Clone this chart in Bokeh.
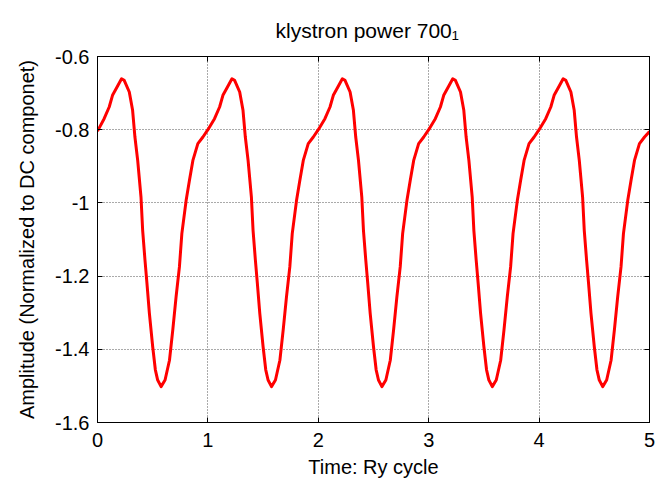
from bokeh.plotting import figure
from bokeh.models import LinearAxis, FixedTicker, Range1d, Title
from bokeh.embed import file_html
from bokeh.resources import INLINE

time_cycle = [
    0.000, 0.060, 0.106, 0.136, 0.176, 0.218, 0.242, 0.288, 0.318, 0.339, 0.364, 0.394, 0.409, 0.430, 0.448, 0.470,
    0.500, 0.524, 0.545, 0.576, 0.612, 0.652, 0.682, 0.712, 0.742, 0.764, 0.803, 0.833, 0.864, 0.909, 0.955,
    1.000, 1.060, 1.106, 1.136, 1.176, 1.218, 1.242, 1.288, 1.318, 1.339, 1.364, 1.394, 1.409, 1.430, 1.448, 1.470,
    1.500, 1.524, 1.545, 1.576, 1.612, 1.652, 1.682, 1.712, 1.742, 1.764, 1.803, 1.833, 1.864, 1.909, 1.955,
    2.000, 2.060, 2.106, 2.136, 2.176, 2.218, 2.242, 2.288, 2.318, 2.339, 2.364, 2.394, 2.409, 2.430, 2.448, 2.470,
    2.500, 2.524, 2.545, 2.576, 2.612, 2.652, 2.682, 2.712, 2.742, 2.764, 2.803, 2.833, 2.864, 2.909, 2.955,
    3.000, 3.060, 3.106, 3.136, 3.176, 3.218, 3.242, 3.288, 3.318, 3.339, 3.364, 3.394, 3.409, 3.430, 3.448, 3.470,
    3.500, 3.524, 3.545, 3.576, 3.612, 3.652, 3.682, 3.712, 3.742, 3.764, 3.803, 3.833, 3.864, 3.909, 3.955,
    4.000, 4.060, 4.106, 4.136, 4.176, 4.218, 4.242, 4.288, 4.318, 4.339, 4.364, 4.394, 4.409, 4.430, 4.448, 4.470,
    4.500, 4.524, 4.545, 4.576, 4.612, 4.652, 4.682, 4.712, 4.742, 4.764, 4.803, 4.833, 4.864, 4.909, 4.955,
    5.000,
]

amplitude = [
    -0.804, -0.770, -0.738, -0.706, -0.684, -0.661, -0.665, -0.697, -0.747, -0.820, -0.884, -0.984, -1.075, -1.156, -1.220, -1.302,
    -1.393, -1.456, -1.484, -1.502, -1.484, -1.430, -1.347, -1.256, -1.175, -1.084, -0.993, -0.938, -0.884, -0.838, -0.820,
    -0.800, -0.770, -0.738, -0.706, -0.684, -0.661, -0.665, -0.697, -0.747, -0.820, -0.884, -0.984, -1.075, -1.156, -1.220, -1.302,
    -1.393, -1.456, -1.484, -1.502, -1.484, -1.430, -1.347, -1.256, -1.175, -1.084, -0.993, -0.938, -0.884, -0.838, -0.820,
    -0.800, -0.770, -0.738, -0.706, -0.684, -0.661, -0.665, -0.697, -0.747, -0.820, -0.884, -0.984, -1.075, -1.156, -1.220, -1.302,
    -1.393, -1.456, -1.484, -1.502, -1.484, -1.430, -1.347, -1.256, -1.175, -1.084, -0.993, -0.938, -0.884, -0.838, -0.820,
    -0.800, -0.770, -0.738, -0.706, -0.684, -0.661, -0.665, -0.697, -0.747, -0.820, -0.884, -0.984, -1.075, -1.156, -1.220, -1.302,
    -1.393, -1.456, -1.484, -1.502, -1.484, -1.430, -1.347, -1.256, -1.175, -1.084, -0.993, -0.938, -0.884, -0.838, -0.820,
    -0.800, -0.770, -0.738, -0.706, -0.684, -0.661, -0.665, -0.697, -0.747, -0.820, -0.884, -0.984, -1.075, -1.156, -1.220, -1.302,
    -1.393, -1.456, -1.484, -1.502, -1.484, -1.430, -1.347, -1.256, -1.175, -1.084, -0.993, -0.938, -0.884, -0.838, -0.820,
    -0.805,
]

x_ticks = [0, 1, 2, 3, 4, 5]
y_ticks = [-1.6, -1.4, -1.2, -1.0, -0.8, -0.6]
y_tick_labels = ["-1.6", "-1.4", "-1.2", "-1", "-0.8", "-0.6"]
title_text = "klystron power 700\u2081"

FONT = "Liberation Sans"
FS = "20px"

p = figure(width=658, height=482, output_backend="svg", toolbar_location=None,
           x_range=Range1d(0, 5), y_range=Range1d(-1.6, -0.6),
           min_border_left=97, min_border_right=9, min_border_top=56, min_border_bottom=60,
           background_fill_color="white", border_fill_color="white")

p.outline_line_color = "black"
p.outline_line_width = 1

p.line(time_cycle, amplitude, line_color="#ff0000", line_width=3, line_join="round")

for ax in (p.xaxis[0], p.yaxis[0]):
    ax.axis_line_color = "black"
    ax.major_tick_in = 5
    ax.major_tick_out = 0
    ax.minor_tick_line_color = None
    ax.major_label_text_font = FONT
    ax.major_label_text_font_size = FS
    ax.major_label_text_color = "black"
    ax.axis_label_text_font = FONT
    ax.axis_label_text_font_size = FS
    ax.axis_label_text_font_style = "normal"
    ax.axis_label_text_color = "black"

p.xaxis[0].ticker = FixedTicker(ticks=x_ticks)
p.yaxis[0].ticker = FixedTicker(ticks=y_ticks)
p.yaxis[0].major_label_overrides = dict(zip(y_ticks, y_tick_labels))
p.xaxis[0].axis_label = "Time: Ry cycle"
p.yaxis[0].axis_label = "Amplitude (Normalized to DC componet)"
p.xaxis[0].major_label_standoff = 10
p.yaxis[0].major_label_standoff = 8
p.xaxis[0].axis_label_standoff = 6
p.yaxis[0].axis_label_standoff = 14

top = LinearAxis(ticker=FixedTicker(ticks=x_ticks),
                 major_label_overrides={t: "" for t in x_ticks},
                 major_tick_in=5, major_tick_out=0, minor_tick_line_color=None,
                 axis_line_color="black", major_label_standoff=0)
right = LinearAxis(ticker=FixedTicker(ticks=y_ticks),
                   major_label_overrides={t: "" for t in y_ticks},
                   major_tick_in=5, major_tick_out=0, minor_tick_line_color=None,
                   axis_line_color="black", major_label_standoff=0)
p.add_layout(top, "above")
p.add_layout(right, "right")

p.add_layout(Title(text=title_text, text_font=FONT, text_font_size="21px",
                   text_font_style="normal", text_color="black",
                   align="left", offset=178, standoff=30), "above")

p.xgrid.ticker = FixedTicker(ticks=x_ticks)
p.ygrid.ticker = FixedTicker(ticks=y_ticks)
p.grid.grid_line_color = "#555555"
p.grid.grid_line_dash = "1 2"
p.grid.grid_line_width = 1

open("out.html", "w").write(file_html(p, INLINE))
